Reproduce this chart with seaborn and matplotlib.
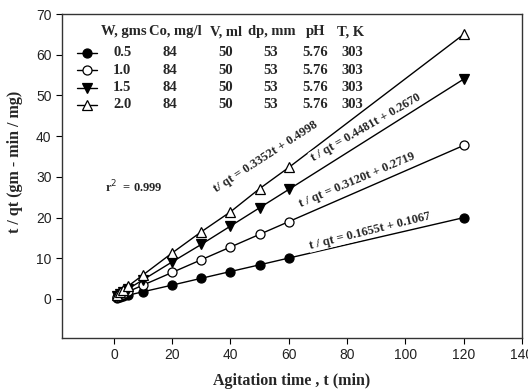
import numpy as np
import pandas as pd
import matplotlib
matplotlib.use("Agg")
import matplotlib.pyplot as plt
from matplotlib.lines import Line2D
import seaborn as sns

# ---- data ----
t = [1, 2, 3, 5, 10, 20, 30, 40, 50, 60, 120]
w_labels = ["0.5", "1.0", "1.5", "2.0"]
y_w05 = [0.27, 0.44, 0.60, 0.93, 1.76, 3.40, 5.07, 6.73, 8.38, 10.04, 19.97]
y_w10 = [0.58, 0.90, 1.21, 1.83, 3.39, 6.51, 9.63, 12.75, 15.87, 18.99, 37.71]
y_w15 = [0.72, 1.16, 1.61, 2.51, 4.70, 9.10, 13.40, 17.90, 22.40, 26.90, 54.0]
y_w20 = [1.00, 1.60, 2.20, 3.20, 5.90, 11.30, 16.50, 21.40, 27.10, 32.30, 65.0]
series = [y_w05, y_w10, y_w15, y_w20]
co_vals = ["84", "84", "84", "84"]
v_vals = ["50", "50", "50", "50"]
dp_vals = ["53", "53", "53", "53"]
ph_vals = ["5.76", "5.76", "5.76", "5.76"]
tk_vals = ["303", "303", "303", "303"]
headers = ["W, gms", "Co, mg/l", "V, ml", "dp, mm", "pH", "T, K"]
equations = ["t / qt = 0.1655t + 0.1067", "t / qt = 0.3120t + 0.2719",
             "t / qt = 0.4481t + 0.2670", "t/ qt = 0.3352t + 0.4998"]
r2_text = "r$^2$  = 0.999"

markers = ["o", "o", "v", "^"]
faces = ["black", "white", "black", "white"]

sns.set_style("ticks")
plt.rcParams["font.family"] = ["Liberation Sans", "DejaVu Sans"]
serif = ["Liberation Serif", "DejaVu Serif"]

W, H = 528, 391
fig = plt.figure(figsize=(W / 100, H / 100), dpi=100)
ax = fig.add_axes([62 / W, 1 - 338 / H, 460 / W, 324 / H])

for ys, m, fc in zip(series, markers, faces):
    df = pd.DataFrame({"t": t, "y": ys})
    sns.lineplot(data=df, x="t", y="y", ax=ax, color="black", lw=1.0,
                 marker=m, markersize=6.5, markerfacecolor=fc,
                 markeredgecolor="black", markeredgewidth=0.9, zorder=3)

ax.set_xlim(-17.8, 140)
ax.set_ylim(-9.6, 70)
ax.set_xticks(np.arange(0, 141, 20))
ax.set_yticks(np.arange(0, 71, 10))
ax.tick_params(axis="both", direction="out", length=4, width=0.8,
               labelsize=10, colors="black", labelcolor="#222222")
for s in ax.spines.values():
    s.set_visible(True)
    s.set_color("#333333")
    s.set_linewidth(1.0)

ax.set_xlabel("Agitation time , t (min)", family=serif, fontweight="bold", fontsize=11.5)
ax.set_ylabel("t / qt (gm - min / mg)", family=serif, fontweight="bold", fontsize=11.5)
ax.xaxis.label.set_va("center")
ax.yaxis.label.set_va("center")
ax.xaxis.set_label_coords(0.5, -(381 - 338) / 324)
ax.yaxis.set_label_coords((15 - 62) / 460, (338 - 162) / 324)

# equation labels
eq_pos = [(87.8, 16.7, 14), (83.3, 29.1, 23), (86.4, 42.1, 30), (52.1, 35.0, 33)]
for txt, (x, y, rot) in zip(equations, eq_pos):
    ax.text(x, y, txt, family=serif, fontweight="bold", fontsize=9,
            rotation=rot, rotation_mode="anchor", ha="center", va="center",
            zorder=4, bbox=dict(facecolor="white", edgecolor="none", pad=0.6))

ax.text(-3, 27.6, r2_text, family=serif, fontweight="bold", fontsize=9,
        ha="left", va="center")

# legend table
def fx(px):
    return px / W

def fy(py):
    return 1 - py / H

fs = 10.5
hdr_y = 32
hdr_x = [(101, "left"), (175, "center"), (226, "center"), (272, "center"),
         (316, "center"), (351, "center")]
for h, (x, ha) in zip(headers, hdr_x):
    fig.text(fx(x), fy(hdr_y), h, family=serif, fontweight="bold", fontsize=fs,
             ha=ha, va="center")

row_y = [53, 70, 87.5, 104.5]
cols = [co_vals, v_vals, dp_vals, ph_vals, tk_vals]
col_x = [170, 226, 271, 315, 352]
for i, (ry, m, fc, wl) in enumerate(zip(row_y, markers, faces, w_labels)):
    fig.add_artist(Line2D([fx(77), fx(87), fx(97)], [fy(ry)] * 3, color="black",
                          lw=1.0, marker=m, markevery=[1], markersize=6.5,
                          markerfacecolor=fc, markeredgecolor="black",
                          markeredgewidth=0.9))
    fig.text(fx(113), fy(ry), wl, family=serif, fontweight="bold", fontsize=fs,
             ha="left", va="center")
    for vals, cx in zip(cols, col_x):
        fig.text(fx(cx), fy(ry), vals[i], family=serif, fontweight="bold",
                 fontsize=fs, ha="center", va="center")

fig.savefig("out.png", dpi=100, facecolor="white")
